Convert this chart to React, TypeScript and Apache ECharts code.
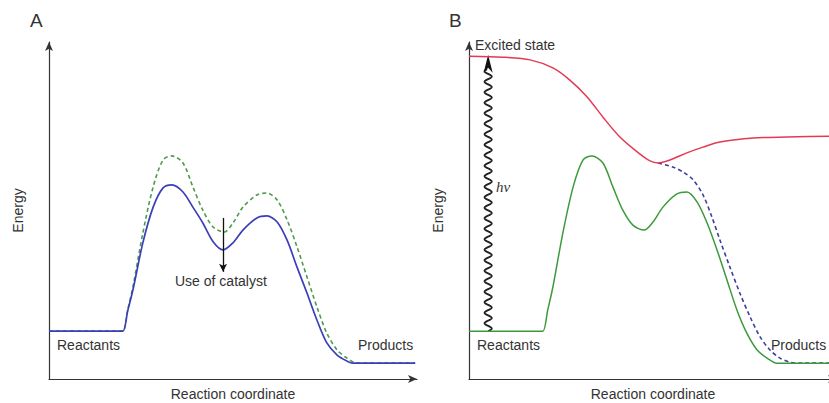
import React, { useEffect, useRef } from "react";
import * as echarts from "echarts";

// Panel A — uncatalysed (dashed) vs catalysed (solid) energy profiles [reaction coordinate, energy]
const uncatalysedA: number[][] = [
  [0, 14.2], [10, 14.2], [18.8, 14.2], [20.1, 14.2], [21.4, 20.5], [22.8, 27.3], [25.5, 43.3], [28.3, 57.0], [31.0, 65.0], [33.4, 66.2],
  [36.4, 64.1], [39.1, 57.0], [41.8, 50.1], [44.6, 45.1], [47.6, 43.6], [50.0, 46.3], [52.7, 51.0],
  [56.5, 54.6], [59.2, 55.2], [62.0, 53.1], [64.7, 47.2], [67.4, 39.2], [70.1, 30.3], [72.8, 21.4],
  [75.5, 13.6], [78.3, 8.6], [81.0, 6.2], [83.7, 4.7], [86, 4.7], [99.5, 4.7],
];
const catalysedA: number[][] = [
  [0, 14.2], [10, 14.2], [18.8, 14.2], [20.1, 14.2], [21.4, 20.3], [22.8, 26.4], [25.5, 40.4], [28.3, 51.0], [31.0, 56.7], [33.4, 57.6],
  [36.4, 55.5], [39.1, 51.0], [41.8, 46.3], [44.6, 40.7], [47.3, 38.3], [50.0, 40.4], [52.7, 44.2],
  [56.5, 47.8], [59.2, 48.4], [62.0, 46.6], [64.7, 41.2], [67.4, 33.2], [70.1, 25.5], [72.8, 17.5],
  [75.5, 10.7], [78.3, 7.1], [81.0, 5.3], [82.6, 4.7], [85, 4.7], [99.5, 4.7],
];
const catalystArrow: number[][] = [[47.3, 47.8], [47.3, 31.8]];

// Panel B — ground state, excited state, and relaxation path
const groundB: number[][] = [
  [0, 14.2], [10, 14.2], [18.8, 14.2], [20.1, 14.2], [21.4, 20.5], [22.8, 27.3], [25.5, 43.3], [28.3, 57.0], [31.0, 65.0], [33.4, 66.2],
  [36.4, 64.1], [39.1, 57.0], [41.8, 50.1], [44.6, 45.6], [47.6, 44.2], [50.0, 46.6], [52.7, 51.0],
  [56.5, 54.9], [59.2, 55.5], [62.0, 52.5], [64.7, 46.3], [67.4, 38.3], [70.1, 29.4], [72.8, 20.5],
  [75.5, 13.6], [78.3, 8.6], [81.0, 6.2], [83.7, 4.7], [86, 4.7], [100, 4.7],
];
const excitedB: number[][] = [
  [0, 95.8], [9.2, 95.5], [16.6, 94.7], [22.8, 92.3], [27.4, 88.7], [32.1, 83.7], [36.4, 77.7],
  [41.0, 71.8], [45.7, 67.4], [49.2, 64.7], [51.4, 64.1], [54.6, 65.0], [59.2, 67.1], [63.6, 68.8],
  [68.2, 70.3], [77.2, 71.5], [86.4, 71.8], [100, 72.1],
];
const relaxB: number[][] = [
  [51.4, 64.1], [55.4, 62.9], [58.2, 61.4], [60.9, 59.1], [63.6, 54.6], [66.0, 48.1], [68.2, 41.2],
  [70.9, 33.2], [73.6, 25.5], [76.4, 18.4], [79.1, 12.5], [81.8, 8.6], [84.5, 6.2], [87.2, 5.0],
  [89.9, 4.7], [92, 4.7], [100, 4.7],
];
const photonArrow: number[][] = [[5.2, 14.2, 96.2]];

const FONT = '"Liberation Sans", Arial, sans-serif';
const TEXT = "#333";
const AXIS = "#333";

function axisPair(gridIndex: number) {
  const common = {
    gridIndex,
    type: "value" as const,
    min: 0,
    max: 100,
    splitLine: { show: false },
    axisTick: { show: false },
    axisLabel: { show: false },
    axisLine: { show: true, symbol: ["none", "arrow"], symbolSize: [6, 9], lineStyle: { color: AXIS, width: 1.2 } },
    nameTextStyle: { fontFamily: FONT, fontSize: 14, color: TEXT },
  };
  return {
    x: { ...common, name: "Reaction coordinate", nameLocation: "middle" as const, nameGap: 8 },
    y: { ...common, name: "Energy", nameLocation: "middle" as const, nameGap: 24 },
  };
}

export default function App() {
  const ref = useRef<HTMLDivElement>(null);
  useEffect(() => {
    if (!ref.current) return;
    const chart = echarts.init(ref.current, undefined, { renderer: "svg" });
    const a = axisPair(0);
    const b = axisPair(1);
    const lineBase = { type: "line" as const, showSymbol: false, smooth: 0.3, silent: true };
    const txt = (text: string, x: number, y: number, extra: any = {}) => ({
      type: "text",
      left: x,
      top: y,
      style: { text, fontFamily: FONT, fontSize: 14, fill: TEXT, ...extra },
    });
    chart.setOption({
      animation: false,
      backgroundColor: "#fff",
      grid: [
        { left: 49, top: 42, right: 412, bottom: 24, outerBoundsMode: "none", containLabel: false },
        { left: 469, top: 42, right: -8, bottom: 24, outerBoundsMode: "none", containLabel: false },
      ],
      xAxis: [a.x, b.x],
      yAxis: [a.y, b.y],
      series: [
        {
          ...lineBase,
          name: "uncatalysed",
          data: uncatalysedA,
          xAxisIndex: 0,
          yAxisIndex: 0,
          lineStyle: { color: "#4f9a4f", width: 1.6, type: [4, 3] },
        },
        {
          ...lineBase,
          name: "catalysed",
          data: catalysedA,
          xAxisIndex: 0,
          yAxisIndex: 0,
          lineStyle: { color: "#3a3fb8", width: 1.7 },
          markLine: {
            silent: true,
            symbol: ["none", "arrow"],
            symbolSize: [6, 8],
            label: { show: false },
            lineStyle: { color: "#111", width: 1.3, type: "solid" },
            data: [[{ coord: catalystArrow[0] }, { coord: catalystArrow[1] }]],
          },
        },
        {
          ...lineBase,
          name: "relaxation",
          data: relaxB,
          xAxisIndex: 1,
          yAxisIndex: 1,
          lineStyle: { color: "#3b3f9a", width: 1.6, type: [4, 3] },
        },
        {
          ...lineBase,
          name: "ground",
          data: groundB,
          xAxisIndex: 1,
          yAxisIndex: 1,
          lineStyle: { color: "#3c9a3c", width: 1.5 },
        },
        {
          ...lineBase,
          name: "excited",
          data: excitedB,
          xAxisIndex: 1,
          yAxisIndex: 1,
          lineStyle: { color: "#e23a55", width: 1.5 },
        },
        {
          type: "custom",
          name: "photon",
          xAxisIndex: 1,
          yAxisIndex: 1,
          clip: false,
          silent: true,
          data: photonArrow,
          renderItem: (_params: any, api: any) => {
            const p0 = api.coord([api.value(0), api.value(1)]);
            const p1 = api.coord([api.value(0), api.value(2)]);
            const headLen = 18;
            const headW = 4.5;
            const yTop = p1[1] + headLen - 4;
            const pts: number[][] = [];
            for (let y = p0[1]; y >= yTop; y -= 0.5) {
              const t = (p0[1] - y) / 10.5;
              pts.push([p0[0] + 3.6 * Math.sin(t * 2 * Math.PI), y]);
            }
            return {
              type: "group",
              children: [
                { type: "polyline", shape: { points: pts }, style: { stroke: "#222", lineWidth: 1.8, fill: null } },
                {
                  type: "polygon",
                  shape: {
                    points: [
                      [p1[0], p1[1]],
                      [p1[0] - headW, p1[1] + headLen],
                      [p1[0], p1[1] + headLen - 5],
                      [p1[0] + headW, p1[1] + headLen],
                    ],
                  },
                  style: { fill: "#111" },
                },
              ],
            };
          },
        },
      ],
      graphic: [
        txt("A", 30, 11, { fontSize: 19 }),
        txt("B", 449, 11, { fontSize: 19 }),
        txt("Reactants", 57, 338),
        txt("Products", 358, 338),
        txt("Use of catalyst", 175, 274),
        txt("Excited state", 475, 38),
        txt("Reactants", 477, 338),
        txt("Products", 771, 338),
        txt("hν", 496, 179, { fontFamily: '"Liberation Serif", "DejaVu Serif", serif', fontStyle: "italic", fontSize: 15 }),
      ],
    });
    return () => chart.dispose();
  }, []);
  return <div ref={ref} style={{ width: 829, height: 403, position: "absolute", left: 0, top: 0 }} />;
}
